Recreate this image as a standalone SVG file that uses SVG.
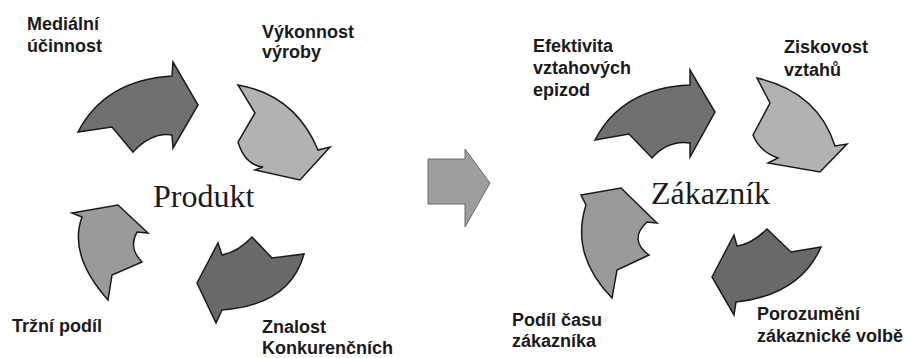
<svg xmlns="http://www.w3.org/2000/svg" width="908" height="358" viewBox="0 0 908 358">
<style>
.lbl{font-family:"Liberation Sans",Arial,sans-serif;font-weight:bold;font-size:18px;fill:#1a1a1a}
.ttl{font-family:"Liberation Serif","Times New Roman",serif;font-size:32px;fill:#1a1a1a}
.arr{stroke:#1a1a1a;stroke-width:1.5;stroke-linejoin:miter}
.dark{fill:#707070}
.darker{fill:#696969}
.light{fill:#b2b2b2}
.mid{fill:#9a9a9a}
</style>
<rect width="908" height="358" fill="#ffffff"/>
<g id="produkt">
  <text class="ttl" x="153" y="207">Produkt</text>
</g>
<g id="medialni-ucinnost">
  <path class="arr dark" d="M78,132 Q105,80 172,76 L173,62 L198,105 L173,148 L172,135 Q152,132 133,152 L112,127 Z"/>
  <text class="lbl" x="27" y="30">Mediální</text>
  <text class="lbl" x="27" y="52">účinnost</text>
</g>
<g id="vykonnost-vyroby">
  <path class="arr light" d="M238,85 Q295,95 318,150 L330,147 L300,180 L255,170 L263,167 Q245,165 238,142 L255,113 Z"/>
  <text class="lbl" x="262" y="38">Výkonnost</text>
  <text class="lbl" x="262" y="58">výroby</text>
</g>
<g id="trzni-podil">
  <path class="arr mid" d="M72,213 L118,205 L148,233 L137,232 Q128,248 142,262 L112,275 L108,300 Q68,255 82,217 Z"/>
  <text class="lbl" x="12" y="332">Tržní podíl</text>
</g>
<g id="znalost-konkurencnich">
  <path class="arr darker" d="M197,283 L218,243 L222,255 Q238,252 252,237 L272,258 L304,254 Q290,305 222,310 L216,323 Z"/>
  <text class="lbl" x="262" y="333">Znalost</text>
  <text class="lbl" x="262" y="354">Konkurenčních</text>
</g>
<g id="zakaznik">
  <text class="ttl" x="651" y="204">Zákazník</text>
</g>
<g id="efektivita">
  <path class="arr dark" d="M595,140 Q622,88 690,85 L690,70 L715,112 L690,157 L690,143 Q668,140 652,158 L629,134 Z"/>
  <text class="lbl" x="533" y="52">Efektivita</text>
  <text class="lbl" x="533" y="74">vztahových</text>
  <text class="lbl" x="533" y="96">epizod</text>
</g>
<g id="ziskovost">
  <path class="arr light" d="M757,78 Q818,92 835,146 L847,144 L820,172 L768,163 L778,158 Q760,152 753,135 L770,103 Z"/>
  <text class="lbl" x="784" y="53">Ziskovost</text>
  <text class="lbl" x="784" y="76">vztahů</text>
</g>
<g id="podil-casu">
  <path class="arr mid" d="M581,195 L621,188 L657,223 L647,222 Q628,240 649,255 L617,270 L612,298 Q570,255 586,205 Z"/>
  <text class="lbl" x="512" y="326">Podíl času</text>
  <text class="lbl" x="512" y="347">zákazníka</text>
</g>
<g id="porozumeni">
  <path class="arr darker" d="M712,277 L734,235 L737,246 Q752,244 767,229 L791,252 L821,247 Q800,295 736,302 L734,315 Z"/>
  <text class="lbl" x="757" y="320">Porozumění</text>
  <text class="lbl" x="757" y="342">zákaznické volbě</text>
</g>
<g id="connectors">
  <path d="M428,159 L465,159 L465,149 L490,183 L465,227 L465,204 L428,204 Z" fill="#9e9e9e" stroke="#6a6a6a" stroke-width="1"/>
</g>
</svg>
